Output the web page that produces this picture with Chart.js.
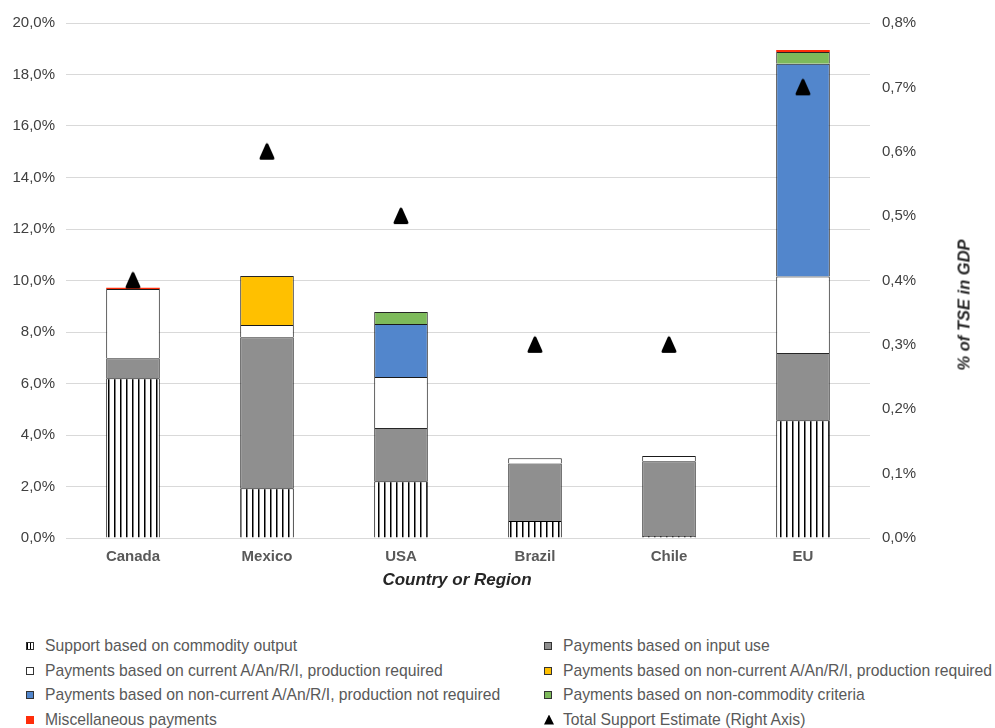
<!DOCTYPE html>
<html>
<head>
<meta charset="utf-8">
<script src="https://cdn.jsdelivr.net/npm/chart.js@4.4.0/dist/chart.umd.min.js"></script>
<style>
    body { margin: 0; background: #fff; font-family: "Liberation Sans", Arial, sans-serif; }
    #wrap { position: relative; width: 995px; height: 728px; overflow: hidden; }
    #chart { position: absolute; left: 0; top: 0; }
    .title { position: absolute; font-weight: bold; font-style: italic; color: #262626; white-space: nowrap; }
    #xTitle { left: 457px; top: 580px; font-size: 17px; transform: translate(-50%, -50%); }
    #yTitle { left: 964px; top: 305px; font-size: 16.5px; transform: translate(-50%, -50%) rotate(-90deg); }
    .item { position: absolute; height: 24px; line-height: 24px; font-size: 15.7px; color: #595959; white-space: nowrap; padding-left: 19px; }
    .mk { position: absolute; left: 0; top: 8px; width: 6px; height: 6px; border: 1px solid #333; }
    .tri { position: absolute; left: 0; top: 7px; width: 10px; height: 10px; background: #000;
           clip-path: polygon(50% 0, 100% 100%, 0 100%); }
</style>
</head>
<body>
<div id="wrap">
    <canvas id="chart" width="995" height="601"></canvas>
    <div class="title" id="xTitle">Country or Region</div>
    <div class="title" id="yTitle">% of TSE in GDP</div>
    <div id="legend"></div>
</div>
<script>
// data (% of agricultural value, left axis; % of GDP, right axis)
const categories = ['Canada', 'Mexico', 'USA', 'Brazil', 'Chile', 'EU'];

const commodityOutput   = [6.20, 1.93, 2.20, 0.66, 0.08, 4.57];
const inputUse          = [0.78, 5.87, 2.07, 2.23, 2.90, 2.61];
const currentProdReq    = [2.69, 0.47, 1.98, 0.21, 0.20, 2.98];
const nonCurrentProdReq = [null, 1.90, null, null, null, null];
const nonCurrentNotReq  = [null, null, 2.06, null, null, 8.26];
const nonCommodity      = [null, null, 0.47, null, null, 0.45];
const miscPayments      = [0.05, null, null, null, null, 0.08];
const tseGdp            = [0.4, 0.6, 0.5, 0.3, 0.3, 0.7];

const seriesNames = [
    'Support based on commodity output',
    'Payments based on input use',
    'Payments based on current A/An/R/I, production required',
    'Payments based on non-current A/An/R/I, production required',
    'Payments based on non-current A/An/R/I, production not required',
    'Payments based on non-commodity criteria',
    'Miscellaneous payments',
    'Total Support Estimate (Right Axis)'
];

const FONT = '"Liberation Sans", Arial, sans-serif';
const canvas = document.getElementById('chart');
const ctx = canvas.getContext('2d');

// vertical hatch for commodity output
function makeHatch() {
    const c = document.createElement('canvas');
    c.width = 6; c.height = 6;
    const x = c.getContext('2d');
    x.fillStyle = '#fff';
    x.fillRect(0, 0, 6, 6);
    x.fillStyle = '#000';
    x.fillRect(0, 0, 1.5, 6);
    return ctx.createPattern(c, 'repeat');
}

// black rounded triangle marker
function makeTriangle() {
    const c = document.createElement('canvas');
    c.width = 20; c.height = 20;
    const x = c.getContext('2d');
    x.beginPath();
    x.moveTo(10, 3);
    x.lineTo(16, 16.5);
    x.lineTo(4, 16.5);
    x.closePath();
    x.lineJoin = 'round';
    x.lineWidth = 3;
    x.fillStyle = '#000';
    x.strokeStyle = '#000';
    x.fill();
    x.stroke();
    return c;
}

const hatch = makeHatch();
const fills   = [hatch, '#8f8f8f', '#ffffff', '#ffc000', '#5286cc', '#7dba5b', '#ff2d0a'];
const borders = ['#000', '#262626', '#1a1a1a', '#262626', '#1a1a1a', '#262626', '#ff2d0a'];
const stackValues = [commodityOutput, inputUse, currentProdReq, nonCurrentProdReq,
                     nonCurrentNotReq, nonCommodity, miscPayments];

const pct = v => Number(v).toFixed(1).replace('.', ',') + '%';

const barSets = stackValues.map((vals, i) => ({
    type: 'bar',
    label: seriesNames[i],
    data: vals,
    backgroundColor: fills[i],
    borderColor: borders[i],
    borderWidth: i === 6 ? 0 : { top: 1, left: 1, right: 1, bottom: 0 },
    borderSkipped: false,
    barPercentage: 0.4,
    categoryPercentage: 1,
    yAxisID: 'y',
    order: 1
}));

new Chart(canvas, {
    data: {
        labels: categories,
        datasets: [...barSets, {
            type: 'line',
            label: seriesNames[7],
            data: tseGdp,
            showLine: false,
            pointStyle: makeTriangle(),
            pointRadius: 10,
            yAxisID: 'y1',
            order: 0
        }]
    },
    options: {
        responsive: false,
        animation: false,
        layout: { padding: { top: 23, left: 0, right: 0, bottom: 0 } },
        plugins: { legend: { display: false }, tooltip: { enabled: false } },
        scales: {
            x: {
                stacked: true,
                grid: { display: false },
                border: { display: false },
                ticks: { color: '#595959', padding: 2, font: { family: FONT, size: 15, weight: 'bold' } },
                afterFit(s) { s.height = 63; }
            },
            y: {
                stacked: true,
                min: 0, max: 20,
                grid: { color: '#d9d9d9', drawTicks: false },
                border: { display: false },
                ticks: { stepSize: 2, padding: 11, color: '#404040', font: { family: FONT, size: 15 }, callback: pct },
                afterFit(s) { s.width = 66; }
            },
            y1: {
                position: 'right',
                min: 0, max: 0.8,
                grid: { display: false, drawTicks: false },
                border: { display: false },
                ticks: { stepSize: 0.1, padding: 12, color: '#404040', font: { family: FONT, size: 15 }, callback: pct },
                afterFit(s) { s.width = 125; }
            }
        }
    }
});

// two-column legend under the chart
const legend = document.getElementById('legend');
const legendCss = [
    'background:repeating-linear-gradient(90deg,#000 0 1px,#fff 1px 3px)',
    'background:#8f8f8f', 'background:#fff', 'background:#ffc000',
    'background:#5286cc', 'background:#7dba5b', 'background:#ff2d0a;border-color:#ff2d0a'
];
seriesNames.forEach((name, i) => {
    const item = document.createElement('div');
    item.className = 'item';
    item.style.left = (i % 2 === 0 ? 26 : 544) + 'px';
    item.style.top = (634 + Math.floor(i / 2) * 24.5) + 'px';
    const mk = document.createElement('span');
    if (i === 7) {
        mk.className = 'tri';
    } else {
        mk.className = 'mk';
        mk.style.cssText = legendCss[i];
    }
    item.appendChild(mk);
    item.appendChild(document.createTextNode(name));
    legend.appendChild(item);
});
</script>
</body>
</html>
